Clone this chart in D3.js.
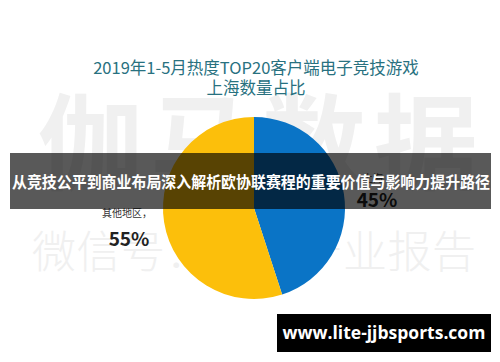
<!DOCTYPE html>
<html><head><meta charset="utf-8">
<script src="https://cdn.jsdelivr.net/npm/d3@7/dist/d3.min.js"></script>
<style>html,body{margin:0;padding:0;background:#fff;overflow:hidden}</style>
</head><body>
<svg id="c" width="500" height="362"></svg>
<script>
const categories = ["上海", "其他地区"];
const values = [45, 55];
const colors = ["#0a74c6", "#fcbf0b"];
const titleLines = ["2019年1-5月热度TOP20客户端电子竞技游戏", "上海数量占比"];
const watermark1 = "伽马数据";
const watermark2 = "微信号：游戏产业报告";
const bannerText = "从竞技公平到商业布局深入解析欧协联赛程的重要价值与影响力提升路径";
const siteText = "www.lite-jjbsports.com";

const svg = d3.select("#c");
const font = "'Noto Sans CJK SC','Noto Sans',sans-serif";

// watermark
svg.append("text").attr("x", 258).attr("y", 182).attr("text-anchor", "middle")
  .attr("font-family", font).attr("font-weight", 700).attr("font-size", 104)
  .attr("fill", "#f0f0f0").attr("textLength", 440).attr("lengthAdjust", "spacing")
  .text(watermark1);
svg.append("text").attr("x", 254).attr("y", 268).attr("text-anchor", "middle")
  .attr("font-family", font).attr("font-weight", 300).attr("font-size", 44)
  .attr("fill", "#f0f0f0").attr("textLength", 444).attr("lengthAdjust", "spacing")
  .text(watermark2);

// title
svg.selectAll("text.title").data(titleLines).join("text").attr("class", "title")
  .attr("x", 256).attr("y", (d, i) => 74 + i * 20).attr("text-anchor", "middle")
  .attr("font-family", font).attr("font-size", 16.5).attr("fill", "#28717f")
  .text(d => d);

// pie
const cx = 254, cy = 208, r = 91;
const pie = d3.pie().sort(null).value(d => d);
const arc = d3.arc().innerRadius(0).outerRadius(r);
const g = svg.append("g").attr("transform", `translate(${cx},${cy})`);
g.selectAll("path").data(pie(values)).join("path")
  .attr("d", arc).attr("fill", (d, i) => colors[i]);

// labels
svg.append("text").attr("x", 363).attr("y", 182).attr("font-family", font)
  .attr("font-size", 10).attr("fill", "#333").text(categories[0]);
svg.append("text").attr("x", 377).attr("y", 207).attr("text-anchor", "middle").attr("font-family", font)
  .attr("font-size", 19).attr("font-weight", 700).attr("fill", "#222").text(values[0] + "%");
svg.append("text").attr("x", 127).attr("y", 217).attr("text-anchor", "middle").attr("font-family", font)
  .attr("font-size", 10).attr("fill", "#333").text(categories[1] + "，");
svg.append("text").attr("x", 129).attr("y", 246).attr("text-anchor", "middle").attr("font-family", font)
  .attr("font-size", 19).attr("font-weight", 700).attr("fill", "#222").text(values[1] + "%");

// banner
svg.append("rect").attr("x", 10).attr("y", 153).attr("width", 481).attr("height", 56)
  .attr("fill", "rgba(0,0,0,0.65)");
svg.append("text").attr("x", 251).attr("y", 188).attr("text-anchor", "middle")
  .attr("font-family", font).attr("font-weight", 700).attr("font-size", 16)
  .attr("fill", "#fff").attr("textLength", 478).attr("lengthAdjust", "spacingAndGlyphs")
  .text(bannerText);

// site box
svg.append("rect").attr("x", 277).attr("y", 314).attr("width", 214).attr("height", 38).attr("fill", "#000");
svg.append("text").attr("x", 384).attr("y", 339).attr("text-anchor", "middle")
  .attr("font-family", "'Open Sans','DejaVu Sans',sans-serif").attr("font-weight", 700).attr("font-size", 17.5)
  .attr("fill", "#fff").text(siteText);
</script>
</body></html>
